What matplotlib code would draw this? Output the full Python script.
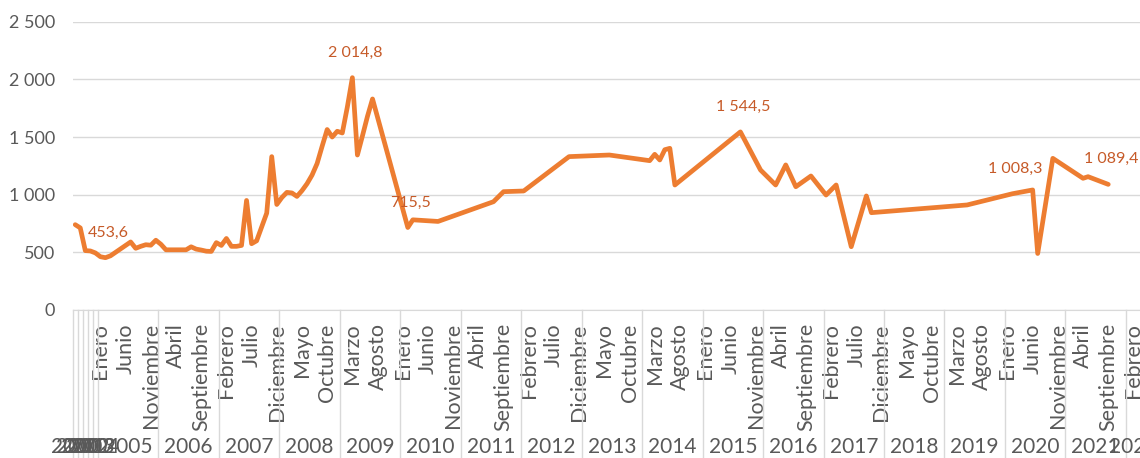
import numpy as np
import matplotlib
matplotlib.use("Agg")
import matplotlib.pyplot as plt
import matplotlib.transforms as mtransforms

plt.rcParams['font.family'] = ['Lato', 'DejaVu Sans']

# annual categories before the monthly series
annual_years = [2000, 2001, 2002, 2003, 2004]
annual_values = [740, 712, 515, 512, 495]

# monthly observations (gaps are joined by the line)
obs_dates = [
    '2005-01', '2005-02', '2005-03', '2005-04', '2005-05', '2005-06', '2005-07', '2005-08',
    '2005-09', '2005-10', '2005-11', '2005-12',
    '2006-01', '2006-02', '2006-03', '2006-04', '2006-05', '2006-06', '2006-07', '2006-08',
    '2006-09', '2006-10', '2006-11', '2006-12',
    '2007-01', '2007-02', '2007-03', '2007-04', '2007-05', '2007-06', '2007-07', '2007-08',
    '2007-09', '2007-10', '2007-11', '2007-12',
    '2008-01', '2008-02', '2008-03', '2008-04', '2008-05', '2008-06', '2008-07', '2008-08',
    '2008-09', '2008-10', '2008-11', '2008-12',
    '2009-01', '2009-02', '2009-03', '2009-04', '2009-05', '2009-06', '2009-07',
    '2010-02', '2010-03', '2010-08',
    '2011-07', '2011-09',
    '2012-01', '2012-10',
    '2013-06',
    '2014-02', '2014-03', '2014-04', '2014-05', '2014-06', '2014-07',
    '2015-08', '2015-12',
    '2016-03', '2016-05', '2016-07', '2016-10',
    '2017-01', '2017-03', '2017-06', '2017-09', '2017-10',
    '2019-05', '2019-10',
    '2020-02', '2020-06', '2020-07', '2020-10',
    '2021-04', '2021-05', '2021-09',
]
obs_values = [
    462, 453.6, 470, 500, 530, 560, 590, 535,
    552, 566, 562, 605,
    570, 522, 522, 522, 522, 522, 548, 528,
    520, 510, 508, 584,
    560, 620, 552, 552, 560, 950, 575, 600,
    720, 840, 1330, 915,
    975, 1020, 1015, 985, 1035, 1095, 1170, 1270,
    1420, 1565, 1500, 1550,
    1535, 1760, 2014.8, 1344, 1510, 1680, 1830,
    715.5, 782, 768,
    939, 1026,
    1032, 1330,
    1344,
    1295, 1350, 1301, 1390, 1402, 1084,
    1544.5, 1214,
    1084, 1258, 1069, 1162,
    997, 1084, 549, 989, 844,
    911, 965,
    1008.3, 1041, 490, 1315,
    1142, 1156, 1089.4,
]
labelled = ['2005-02', '2009-03', '2010-02', '2015-08', '2020-02', '2021-09']

month_names = ['Enero', 'Febrero', 'Marzo', 'Abril', 'Mayo', 'Junio', 'Julio',
               'Agosto', 'Septiembre', 'Octubre', 'Noviembre', 'Diciembre']
first_year, last_year = 2005, 2022
months_last_year = 3

line_color = '#ED7D31'
label_color = '#C65A28'
text_color = '#595959'
grid_color = '#D9D9D9'


def fmt(v, dec=False):
    s = f'{v:,.1f}' if dec else f'{v:,.0f}'
    return s.replace(',', ' ').replace('.', ',')


n_annual = len(annual_years)


def cat_index(date):
    y, m = date.split('-')
    return n_annual + (int(y) - first_year) * 12 + int(m) - 1


n_cats = n_annual + (last_year - first_year) * 12 + months_last_year

xs = list(range(n_annual)) + [cat_index(d) for d in obs_dates]
ys = annual_values + obs_values

W, H = 1140, 458
fig = plt.figure(figsize=(W / 100, H / 100), dpi=100)
left, right, top, bottom = 72.7, 1141, 21.7, 310
ax = fig.add_axes([left / W, (H - bottom) / H, (right - left) / W, (bottom - top) / H])

ax.plot(xs, ys, color=line_color, lw=3.4, solid_joinstyle='round', solid_capstyle='round',
        zorder=3)

for d in labelled:
    v = obs_values[obs_dates.index(d)]
    ax.annotate(fmt(v, True), (cat_index(d), v), xytext=(3, 25), textcoords='offset pixels',
                ha='center', va='center', color=label_color, fontsize=11.5)

ax.set_xlim(-0.5, n_cats - 0.5)
ax.set_ylim(0, 2500)
ax.set_yticks(range(0, 2501, 500))
ax.set_yticklabels([fmt(v) for v in range(0, 2501, 500)], color=text_color, fontsize=13)
ax.grid(axis='y', color=grid_color, lw=1)
ax.set_axisbelow(True)
for s in ['top', 'right', 'left']:
    ax.spines[s].set_visible(False)
ax.spines['bottom'].set_color(grid_color)
ax.tick_params(axis='y', length=0, pad=12.5)

# month labels every 5th category
tick_pos = list(range(n_annual, n_cats, 5))
tick_lab = [month_names[(k - n_annual) % 12] for k in tick_pos]
ax.set_xticks(tick_pos)
ax.set_xticklabels(tick_lab, rotation=90, color=text_color, fontsize=15.5)
ax.tick_params(axis='x', length=0, pad=9.5)

# group separators and year labels
trans = mtransforms.blended_transform_factory(ax.transData, ax.transAxes)
depth = (H - bottom) / (bottom - top)
bounds = [-0.5] + [k + 0.5 for k in range(n_annual)]
bounds += [n_annual - 0.5 + 12 * j for j in range(1, last_year - first_year + 1)]
for b in bounds:
    ax.plot([b, b], [0, -depth], transform=trans, color=grid_color, lw=1, clip_on=False)

year_y = -(446.7 - bottom) / (bottom - top)
for k, yr in enumerate(annual_years):
    ax.text(k, year_y, str(yr), transform=trans, ha='center', va='center',
            color=text_color, fontsize=15, clip_on=False)
for yr in range(first_year, last_year + 1):
    start = n_annual + (yr - first_year) * 12
    n = 12 if yr < last_year else months_last_year
    ax.text(start + (n - 1) / 2, year_y, str(yr), transform=trans, ha='center', va='center',
            color=text_color, fontsize=15, clip_on=False)

fig.savefig('out.png', dpi=100)
